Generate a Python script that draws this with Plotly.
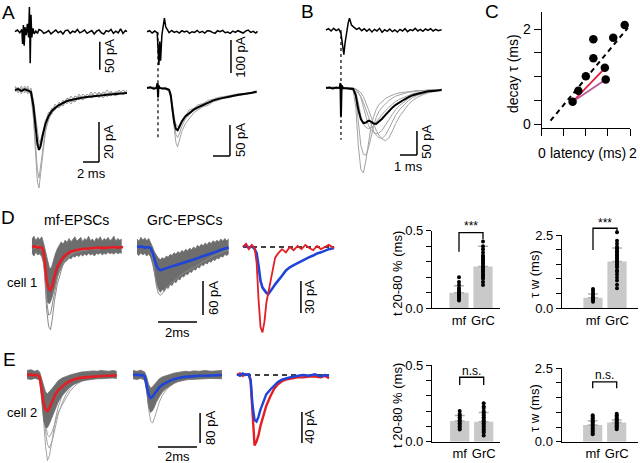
import plotly.graph_objects as go

W, H = 640, 463
FONT = "Arial, Liberation Sans, sans-serif"
RED = "#e31e24"
BLUE = "#1f45d8"
PINK = "#b85a9a"
CRED = "#e01a3c"
LGRAY = "#a3a3a3"
BUNDLE = "#6d6d6d"
BARC = "#c9c9c9"

# ---------------- data (time in ms, current in pA) ----------------
# Panel A, left cell
tA1_top = [0,0.3,0.6,0.85,0.95,1.05,1.15,1.25,1.4,1.55,1.7,1.8,1.9,2.0,2.1,2.25,2.4,2.6,2.8,3.0,
           3.3,3.6,3.9,4.2,4.5,4.8,5.1,5.4,5.7,6.0,6.3,6.6,6.9,7.2,7.5,7.8,8.1,8.4,8.7,9.0,
           9.3,9.6,9.9,10.2,10.5,10.8,11.1,11.4,11.7,12.0,12.3,12.6,12.9,13.2,13.5,13.8,14]
iA1_top = [0,3,-2,4,-22,12,-25,8,-6,14,-10,44,-56,30,-10,6,-4,1,-3,4,
           2,-3,-1,2,-4,0,3,-2,1,-4,2,3,-3,1,-1,4,-2,0,3,-3,
           -1,2,-4,1,3,-2,-4,2,0,4,-3,1,-2,5,-3,2,0]
tA1 = [0,0.4,0.8,1.2,1.6,2.0,2.3,2.6,2.8,3.0,3.2,3.5,3.8,4.2,4.6,5.0,5.5,6.0,6.5,7.0,
       7.5,8.0,8.5,9.0,9.5,10,10.5,11,11.5,12,12.5,13,13.5,14]
iA1_mean = [0,0.5,-0.4,0.3,-0.2,-1,-8,-20,-27,-30,-28,-22,-17,-13,-10.5,-9,-7.5,-6.5,-5.5,-5,
            -4.5,-4,-3.8,-3.5,-3.2,-3,-2.8,-2.6,-2.4,-2.2,-2,-1.8,-1.7,-1.5]
iA1_sweeps = [
    [1.5,-1,2,-1.5,1,-2,-12,-30,-40,-44,-38,-28,-20,-15,-11,-10,-7,-8,-4,-6,-3,-5,-2,-4,-1,-3.5,-1.5,-3,0,-2.5,-1,-2,0,-1.5],
    [-1,1.5,-2,2,-1,0,-5,-15,-22,-26,-25,-20,-16,-11,-12,-7,-9,-5,-7,-3,-6,-2,-5,-2,-4,-1,-4,-1,-3.5,-0.5,-3,0,-2.5,0],
    [0.5,-1.5,1,-0.5,2,-3,-14,-35,-46,-49,-42,-30,-21,-14,-12,-8,-9,-6,-5,-7,-3,-4,-5,-2,-4,-3,-1,-4,-2,-1,-3,-2,0,-2],
    [2,0,-1,1,-2,1,-6,-18,-25,-28,-26,-22,-15,-13,-9,-10,-6,-8,-4,-5,-6,-3,-4,-4,-2,-3,-3,-1,-2,-3,-1,-1,-2,-1],
]
# Panel A, right cell
tA2_top = [0,0.3,0.6,0.9,1.2,1.3,1.4,1.5,1.6,1.75,1.9,2.05,2.2,2.4,2.6,2.9,3.2,3.5,3.8,4.1,
           4.4,4.7,5.0,5.3,5.6,5.9,6.2,6.5,6.8,7.1,7.4,7.7,8.0,8.3,8.6,8.9,9.2,9.5,9.8,10.1,
           10.4,10.7,11.0,11.3,11.6,11.9,12.2,12.5,12.8,13.0]
iA2_top = [0,3,-4,2,-3,-60,-101,-30,-88,-10,25,41,15,5,-3,4,-2,1,-4,3,
           -1,2,-5,0,-2,4,-3,1,-4,3,2,-2,-5,3,0,4,-3,-1,-5,2,
           -2,3,0,-4,2,5,-2,1,-4,1]
tA2 = [0,0.4,0.8,1.1,1.25,1.3,1.35,1.5,1.8,2.2,2.6,2.8,3.0,3.2,3.4,3.6,3.8,4.1,4.5,5.0,
       5.5,6.0,6.6,7.2,7.8,8.4,9.0,9.6,10.2,10.8,11.4,12.0,12.4,12.7,12.9]
iA2_mean = [0,1,-1,0,8,-15,4,0,-1,-1,-3,-12,-35,-55,-66,-68,-63,-54,-46,-40,
            -35,-31,-27,-23,-20,-17.5,-15.5,-14,-12.5,-11,-10,-8.5,-7.5,-6.5,-6]
iA2_sweeps = [
    [2,-1,1,-2,6,-12,3,1,0,-2,-5,-18,-45,-70,-88,-95,-85,-70,-58,-48,-40,-35,-30,-28,-22,-20,-16,-16,-13,-12,-11,-9,-8,-7,-6],
    [-1,2,-2,1,9,-16,5,-1,1,0,-2,-8,-28,-48,-58,-62,-60,-52,-45,-35,-33,-27,-25,-20,-18,-15,-14,-12,-11,-9,-9,-8,-6,-6,-5],
    [1,0,2,-1,7,-14,2,2,-2,1,-4,-15,-38,-60,-75,-80,-74,-62,-50,-43,-36,-33,-29,-26,-21,-19,-16,-14,-13,-12,-10,-8,-7,-8,-7],
]
stimA2 = 1.29
# Panel B
tB_top = [0,0.15,0.3,0.45,0.6,0.75,0.88,0.95,1.05,1.12,1.2,1.3,1.38,1.5,1.65,1.8,1.95,2.1,2.25,2.4,
          2.55,2.7,2.85,3.0,3.15,3.3,3.45,3.6,3.75,3.9,4.05,4.2,4.35,4.5,4.65,4.8,4.95,5.1,5.25,5.4,
          5.55,5.7,5.85,6.0,6.15,6.3,6.45,6.6,6.8]
iB_top = [0,4,-3,5,-2,3,-10,-35,-75,-40,-5,20,36,15,8,2,6,-2,4,-4,
          3,-6,2,-3,5,-7,1,-4,3,-5,0,-6,2,-3,4,-5,1,-2,5,-3,
          2,-4,3,-1,4,-3,2,-2,1]
tB = [0,0.2,0.4,0.6,0.8,0.85,0.88,0.92,1.0,1.2,1.4,1.6,1.75,1.9,2.05,2.2,2.35,2.5,2.65,2.8,
      2.95,3.1,3.3,3.5,3.7,3.9,4.1,4.35,4.6,4.85,5.1,5.4,5.7,6.0,6.3,6.6,6.8]
iB_mean = [0,1,-1,1,0,10,-60,5,0,-1,-1,-2,-15,-45,-65,-73,-72,-68,-70,-74,
           -75,-71,-64,-56,-48,-41,-35,-29,-24,-19,-15,-12,-9,-7,-6,-5,-4]
iB_sweeps = [
    [1,-1,2,0,-1,8,-55,4,1,0,-2,-5,-40,-120,-170,-177,-150,-110,-80,-60,-45,-35,-28,-22,-18,-15,-12,-10,-9,-8,-6,-5,-6,-4,-3,-4,-2],
    [-1,2,0,-2,1,9,-58,6,-1,1,0,-3,-20,-70,-120,-138,-140,-125,-100,-80,-62,-50,-40,-32,-26,-21,-17,-14,-11,-9,-8,-7,-5,-4,-5,-3,-3],
    [0,1,-2,1,-1,11,-62,3,2,-1,1,0,-2,-8,-20,-40,-60,-78,-88,-93,-95,-94,-88,-78,-66,-55,-45,-36,-28,-22,-17,-14,-10,-8,-7,-5,-4],
    [2,0,1,-1,0,10,-59,5,-2,0,-1,1,-4,-10,-18,-30,-45,-62,-78,-90,-98,-103,-105,-98,-85,-70,-56,-44,-34,-26,-20,-15,-12,-9,-7,-6,-5],
    [-1,0,2,1,-2,9,-61,4,0,1,-1,-1,-8,-30,-58,-75,-82,-85,-83,-78,-72,-64,-55,-47,-40,-34,-28,-23,-19,-15,-12,-10,-8,-6,-5,-4,-3],
    [0,-1,1,0,1,10,-60,5,1,-1,0,-1,-2,-5,-10,-18,-30,-45,-60,-75,-88,-98,-106,-110,-104,-90,-74,-58,-45,-34,-26,-19,-14,-10,-8,-6,-4],
]
stimB = 0.88
# Panel C: latency vs decay tau (ms)
C_latency = [0.70,0.83,1.00,1.17,1.17,1.43,1.45,1.62,1.88]
C_decay = [0.47,0.70,1.01,1.39,1.79,1.19,0.94,1.82,2.09]
C_unity_x = [0.2,1.95]
C_unity_y = [0.07,2.03]
C_red_x = [0.70,1.40]
C_red_y = [0.47,1.15]
C_pink_x = [0.70,1.45]
C_pink_y = [0.47,0.94]
C_ticks = [0, 0.5, 1, 1.5, 2]
C_ticktext = ["0", "", "", "", "2"]

# Panel D, cell 1
tDm = [0,0.15,0.3,0.45,0.55,0.65,0.75,0.85,0.95,1.05,1.15,1.3,1.45,1.6,1.8,2.0,2.2,2.4,2.6,2.8,
       3.0,3.2,3.4,3.6,3.8,4.0,4.2,4.4,4.67]
iDm_mean = [0,1,-1,0,-3,-25,-60,-74,-76,-68,-52,-35,-26,-18,-12,-8,-6,-4,-3,-3,-2,-2,-1,-2,-1,-1,0,-1,0]
tDm_band = [0,0.1,0.2,0.3,0.4,0.5,0.6,0.7,0.8,0.9,1.0,1.1,1.2,1.3,1.4,1.5,1.6,1.7,1.8,1.9,
            2.0,2.1,2.2,2.3,2.4,2.5,2.6,2.7,2.8,2.9,3.0,3.1,3.2,3.3,3.4,3.5,3.6,3.7,3.8,3.9,
            4.0,4.1,4.2,4.3,4.4,4.5,4.6]
iDm_hi = [14,19,11,17,13,18,6,-10,-28,-38,-36,-22,-12,-3,4,9,5,12,8,15,
          9,14,18,10,13,17,9,15,12,19,11,14,9,16,13,18,10,15,12,17,
          11,14,19,10,15,12,14]
iDm_lo = [-11,-16,-9,-14,-12,-17,-30,-70,-98,-100,-92,-80,-66,-52,-44,-36,-31,-26,-24,-19,
          -21,-16,-18,-14,-17,-13,-16,-12,-15,-11,-14,-12,-16,-11,-13,-10,-14,-11,-13,-9,
          -12,-10,-13,-9,-12,-10,-11]
iDm_sweeps = [
    [2,-3,4,-2,-8,-50,-110,-140,-146,-125,-95,-65,-45,-30,-20,-14,-10,-8,-6,-5,-4,-3,-4,-2,-3,-1,-2,-1,0],
    [-3,2,-1,3,-5,-40,-95,-120,-118,-100,-80,-55,-38,-27,-18,-12,-9,-7,-5,-6,-3,-4,-2,-3,-1,-2,0,-1,-1],
]
tDg = [0,0.2,0.4,0.6,0.7,0.8,0.9,1.0,1.1,1.2,1.35,1.5,1.7,1.9,2.1,2.3,2.5,2.7,2.9,3.1,
       3.3,3.5,3.7,3.9,4.1,4.3,4.5,4.7]
iDg_mean = [0,1,-1,0,-2,-10,-22,-33,-39,-41,-39,-37,-35,-33,-31,-29,-27,-25,-22,-20,-17,-15,-12,-10,-8,-5,-3,-1]
tDg_band = [0,0.1,0.2,0.3,0.4,0.5,0.6,0.7,0.8,0.9,1.0,1.1,1.2,1.3,1.4,1.5,1.6,1.7,1.8,1.9,
            2.0,2.1,2.2,2.3,2.4,2.5,2.6,2.7,2.8,2.9,3.0,3.1,3.2,3.3,3.4,3.5,3.6,3.7,3.8,3.9,
            4.0,4.1,4.2,4.3,4.4,4.5,4.6,4.7]
iDg_hi = [14,10,17,12,16,11,15,8,0,-9,-15,-20,-22,-19,-21,-16,-18,-13,-15,-10,
          -13,-8,-11,-6,-9,-4,-7,-2,-5,0,-3,3,0,5,2,7,4,9,6,11,
          8,12,9,14,10,15,11,14]
iDg_lo = [-12,-15,-10,-14,-11,-16,-12,-18,-30,-48,-64,-74,-80,-75,-78,-71,-73,-66,-68,-61,
          -63,-56,-58,-51,-53,-47,-49,-43,-45,-39,-41,-35,-37,-31,-33,-28,-30,-25,-27,-22,
          -24,-19,-21,-16,-18,-13,-15,-12]
iDg_sweeps = [
    [-2,3,-1,2,-6,-20,-45,-70,-82,-85,-80,-72,-66,-60,-54,-48,-44,-40,-35,-31,-27,-23,-20,-16,-13,-10,-8,-5],
]
tDo = [0,0.15,0.3,0.45,0.6,0.7,0.8,0.9,1.0,1.1,1.2,1.3,1.4,1.5,1.65,1.8,2.0,2.2,2.4,2.6,
       2.8,3.0,3.2,3.4,3.6,3.8,4.0,4.2,4.4,4.67]
iDo_mf = [0,3,-2,2,-1,-15,-50,-75,-80,-70,-52,-42,-35,-22,-10,-6,-2,-5,0,-3,1,-2,2,-1,-3,1,-2,0,2,-1]
iDo_grc = [0,2,-1,1,-2,-6,-18,-32,-38,-41,-43,-44,-42,-39,-35,-32,-27,-22,-19,-17,-15,-13,-11,-9.5,-8,-6,-5,-3.5,-2,-1]

# Panel E, cell 2
tEm = [0,0.2,0.4,0.55,0.65,0.75,0.85,0.95,1.05,1.15,1.3,1.45,1.6,1.8,2.0,2.2,2.4,2.6,2.8,3.0,
       3.2,3.4,3.6,3.8,4.0,4.2,4.4,4.6]
iEm_mean = [0,1,-1,0,-5,-35,-75,-92,-96,-88,-70,-52,-40,-30,-22,-16,-12,-9,-7,-6,-5,-4,-3,-3,-2,-2,-1,-1]
iEm_hi = [12,14,10,13,8,-10,-30,-45,-50,-45,-35,-25,-15,-8,-3,0,3,6,8,9,10,11,10,12,11,10,12,10]
iEm_lo = [-10,-12,-9,-11,-15,-60,-120,-140,-140,-130,-110,-90,-72,-55,-42,-32,-25,-20,-16,-14,-12,-11,-10,-10,-9,-9,-8,-9]
iEm_sweeps = [
    [2,-2,1,-1,-6,-40,-120,-190,-228,-215,-170,-120,-85,-55,-38,-26,-18,-13,-10,-8,-6,-5,-4,-3,-3,-2,-2,-1],
    [-1,1,-2,2,-4,-30,-90,-150,-185,-195,-175,-140,-105,-75,-52,-36,-25,-18,-13,-10,-8,-6,-5,-4,-3,-2,-2,-1],
    [1,0,1,-2,-3,-25,-80,-130,-160,-165,-150,-125,-100,-80,-60,-44,-32,-23,-17,-13,-10,-8,-6,-5,-4,-3,-2,-1],
]
tEg = [0,0.2,0.4,0.5,0.6,0.7,0.8,0.9,1.0,1.1,1.2,1.35,1.5,1.7,1.9,2.1,2.3,2.5,2.7,2.9,
       3.1,3.4,3.7,4.0,4.3,4.56]
iEg_mean = [0,1,-1,0,-3,-25,-52,-61,-58,-50,-42,-33,-26,-20,-15,-11,-8,-6,-5,-4,-3,-2,-2,-1,-1,0]
iEg_hi = [12,10,13,11,8,-5,-25,-35,-32,-25,-18,-10,-5,-1,3,5,7,8,10,9,11,10,12,10,11,12]
iEg_lo = [-10,-12,-9,-11,-14,-45,-85,-100,-95,-85,-72,-58,-46,-36,-28,-22,-18,-15,-13,-12,-11,-10,-10,-9,-9,-10]
iEg_sweeps = [
    [1,-1,2,-2,-4,-35,-90,-122,-128,-115,-95,-72,-55,-40,-30,-22,-16,-12,-9,-7,-5,-4,-3,-2,-2,-1],
]
tEo = [0,0.15,0.3,0.45,0.6,0.7,0.8,0.9,1.0,1.1,1.2,1.35,1.5,1.7,1.9,2.1,2.3,2.5,2.7,2.9,
       3.1,3.4,3.7,4.0,4.3,4.5,4.72]
iEo_mf = [0,2,-1,1,0,-8,-50,-91,-86,-78,-66,-52,-40,-28,-18,-12,-8,-6,-5,-4,-3,-3,-2,-2,-3,-1,-4]
iEo_grc = [1,-1,2,0,1,-6,-40,-58,-60,-54,-45,-34,-25,-19,-14,-9,-6,-4,-3,-2,-1,0,-1,1,-2,0,-1]

# Scale bars (ms, pA)
sbA1_top = 50
sbA1 = (2, 20)
sbA2_top = 100
sbA2 = (2, 50)
sbB = (1, 50)
sbD = (2, 60)
sbDo = 30
sbE = (2, 80)
sbEo = 40

# Bar charts
groups = ["mf", "GrC"]
D_t2080_mean = [0.10, 0.27]
D_t2080_sd = [0.045, 0.13]
D_t2080_mf = [0.05,0.06,0.07,0.08,0.08,0.09,0.10,0.11,0.12,0.13,0.15,0.17,0.20]
D_t2080_grc = [0.15,0.17,0.19,0.20,0.21,0.22,0.23,0.24,0.25,0.26,0.27,0.28,0.29,0.30,0.31,0.32,0.33,0.34,0.36,0.38,0.40,0.43]
D_tauw_mean = [0.36, 1.60]
D_tauw_sd = [0.13, 0.46]
D_tauw_mf = [0.22,0.28,0.32,0.36,0.40,0.45,0.52,0.60,0.66]
D_tauw_grc = [0.68,0.80,0.95,1.05,1.15,1.25,1.30,1.40,1.45,1.50,1.55,1.60,1.65,1.70,1.75,1.80,1.85,1.90,1.95,2.00,2.05,2.10,2.20,2.30,2.59]
E_t2080_mean = [0.135, 0.13]
E_t2080_sd = [0.035, 0.06]
E_t2080_mf = [0.08,0.09,0.10,0.11,0.12,0.13,0.14,0.15,0.16,0.17,0.18,0.20]
E_t2080_grc = [0.04,0.06,0.07,0.08,0.09,0.10,0.11,0.12,0.13,0.14,0.15,0.16,0.17,0.18,0.19,0.20,0.22,0.23,0.25]
E_tauw_mean = [0.57, 0.65]
E_tauw_sd = [0.14, 0.09]
E_tauw_mf = [0.25,0.30,0.35,0.40,0.45,0.50,0.55,0.60,0.65,0.70,0.75,0.80,0.85,0.90]
E_tauw_grc = [0.42,0.48,0.52,0.56,0.60,0.64,0.68,0.72,0.76,0.80,0.85,0.90,0.95]

# ---------------- figure helpers ----------------
fig = go.Figure()
axes = {}


def make_axes(box, x0, sx, y0, sy):
    n = len(axes) // 2 + 1
    s = "" if n == 1 else str(n)
    l, r, t, b = box
    axes["xaxis" + s] = dict(domain=[l / W, r / W], range=[(l - x0) / sx, (r - x0) / sx],
                             anchor="y" + s, visible=False, fixedrange=True, automargin=False,
                             showgrid=False, zeroline=False)
    axes["yaxis" + s] = dict(domain=[1 - b / H, 1 - t / H], range=[(y0 - b) / sy, (y0 - t) / sy],
                             anchor="x" + s, visible=False, fixedrange=True, automargin=False,
                             showgrid=False, zeroline=False)
    return ("x" + s, "y" + s)


def line(ax, x, y, color, width, dash=None, fill=None, fillcolor=None):
    fig.add_trace(go.Scatter(x=x, y=y, xaxis=ax[0], yaxis=ax[1], mode="lines",
                             line=dict(color=color, width=width, dash=dash),
                             fill=fill, fillcolor=fillcolor,
                             hoverinfo="skip", showlegend=False))


def atext(ax, x, y, s, size=13, angle=0):
    fig.add_annotation(x=x, y=y, xref=ax[0], yref=ax[1], text=s, showarrow=False,
                       textangle=angle, font=dict(family=FONT, size=size, color="black"),
                       xanchor="center", yanchor="middle")


def ptext(px, py, s, size=13, angle=0):
    fig.add_annotation(x=px / W, y=1 - py / H, xref="paper", yref="paper", text=s,
                       showarrow=False, textangle=angle,
                       font=dict(family=FONT, size=size, color="black"),
                       xanchor="center", yanchor="middle")


def vbar(ax, x, y_top, length):
    line(ax, [x, x], [y_top - length, y_top], "black", 1.5)


def hbar(ax, x_right, y, length):
    line(ax, [x_right - length, x_right], [y, y], "black", 1.5)


def band(ax, t, hi, lo, color):
    line(ax, t, hi, color, 0.8)
    line(ax, t, lo, color, 0.8, fill="tonexty", fillcolor=color)


# ---------------- Panel A ----------------
axA1t = make_axes((10, 135, 0, 80), 15, 8, 31.7, 0.561)
line(axA1t, tA1_top, iA1_top, "black", 1.5)
vbar(axA1t, 10.6, -18, sbA1_top)
atext(axA1t, 11.9, -43, f"{sbA1_top} pA", angle=-90)

axA1b = make_axes((10, 135, 75, 195), 15, 8, 90, 2.0)
for sw in iA1_sweeps:
    line(axA1b, tA1, sw, LGRAY, 1)
line(axA1b, tA1, iA1_mean, "black", 2)
vbar(axA1b, 10.5, -16, sbA1[1])
hbar(axA1b, 10.5, -16 - sbA1[1], sbA1[0])
atext(axA1b, 11.75, -26, f"{sbA1[1]} pA", angle=-90)
atext(axA1b, 9.5, -42, f"{sbA1[0]} ms")

axA2t = make_axes((140, 262, 0, 80), 147, 8.5, 31.7, 0.33)
line(axA2t, tA2_top, iA2_top, "black", 1.5)
vbar(axA2t, 9.88, -25, sbA2_top)
atext(axA2t, 11.06, -76, f"{sbA2_top} pA", angle=-90)

axA2b = make_axes((140, 262, 20, 165), 147, 8.5, 88, 0.62)
line(axA2b, [stimA2, stimA2], [90, -84], "black", 1.2, dash="dot")
for sw in iA2_sweeps:
    line(axA2b, tA2, sw, LGRAY, 1)
line(axA2b, tA2, iA2_mean, "black", 2)
vbar(axA2b, 9.76, -59.7, sbA2[1])
hbar(axA2b, 9.76, -59.7 - sbA2[1], sbA2[0])
atext(axA2b, 10.94, -84, f"{sbA2[1]} pA", angle=-90)
atext(axA2b, 8.76, -129, f"{sbA2[0]} ms")

# ---------------- Panel B ----------------
axBt = make_axes((320, 448, 0, 80), 326, 17, 30, 0.33)
line(axBt, tB_top, iB_top, "black", 1.5)
axBb = make_axes((320, 448, 20, 180), 326, 17, 88, 0.48)
line(axBb, [stimB, stimB], [120.8, -108], "black", 1.2, dash="dot")
for sw in iB_sweeps:
    line(axBb, tB, sw, LGRAY, 1)
line(axBb, tB, iB_mean, "black", 2)
vbar(axBb, 5.35, -89.6, sbB[1])
hbar(axBb, 5.35, -89.6 - sbB[1], sbB[0])
atext(axBb, 5.94, -112, f"{sbB[1]} pA", angle=-90)
atext(axBb, 4.85, -164, f"{sbB[0]} ms")

# ---------------- Panel C ----------------
axC = make_axes((541.7, 630, 11.7, 128), 541.7, 44.15, 124, 47.35)
sC = axC[0][1:]
for key in ("xaxis" + sC, "yaxis" + sC):
    axes[key].update(dict(visible=True, showline=True, linecolor="black", linewidth=1.3,
                          ticks="outside", ticklen=7, tickwidth=1.3, tickcolor="black",
                          tickmode="array", tickvals=C_ticks, ticktext=C_ticktext,
                          tickfont=dict(family=FONT, size=14, color="black")))
axes["xaxis" + sC].update(dict(showticklabels=False, side="bottom"))
axes["yaxis" + sC].update(dict(side="left"))
line(axC, C_unity_x, C_unity_y, "black", 2, dash="5px,4px")
line(axC, C_red_x, C_red_y, CRED, 1.8)
line(axC, C_pink_x, C_pink_y, PINK, 1.8)
fig.add_trace(go.Scatter(x=C_latency, y=C_decay, xaxis=axC[0], yaxis=axC[1], mode="markers",
                         marker=dict(size=8.5, color="black"), cliponaxis=False,
                         hoverinfo="skip", showlegend=False))
ptext(542, 153, "0", 14)
ptext(633, 153, "2", 14)
ptext(588, 153, "latency (ms)", 14)
ptext(513, 74, "decay τ (ms)", 14, angle=-90)

# ---------------- Panel D ----------------
axDm = make_axes((28, 128, 225, 335), 32, 19.5, 247, 0.567)
band(axDm, tDm_band, iDm_hi, iDm_lo, BUNDLE)
for sw in iDm_sweeps:
    line(axDm, tDm, sw, "#8a8a8a", 1)
line(axDm, tDm, iDm_mean, RED, 2.6)

axDg = make_axes((130, 235, 225, 335), 137, 19.5, 247, 0.567)
band(axDg, tDg_band, iDg_hi, iDg_lo, BUNDLE)
for sw in iDg_sweeps:
    line(axDg, tDg, sw, "#8a8a8a", 1)
line(axDg, tDg, iDg_mean, BLUE, 2.6)
vbar(axDg, 3.385, -60, sbD[1])
hbar(axDg, 3.077, -132.3, sbD[0])
atext(axDg, 3.9, -90, f"{sbD[1]} pA", angle=-90)
atext(axDg, 2.077, -150, f"{sbD[0]}ms")

axDo = make_axes((238, 345, 225, 340), 243, 19.5, 247, 1.067)
line(axDo, [tDo[0], tDo[-1]], [0, 0], "black", 1.5, dash="5px,4px")
line(axDo, tDo, iDo_grc, BLUE, 2.6)
line(axDo, tDo, iDo_mf, RED, 1.8)
vbar(axDo, 2.97, -31.8, sbDo)
atext(axDo, 3.44, -46.8, f"{sbDo} pA", angle=-90)

# ---------------- Panel E ----------------
axEm = make_axes((22, 125, 355, 463), 27, 19.5, 375, 0.375)
for sw in iEm_sweeps:
    line(axEm, tEm, sw, LGRAY, 1)
band(axEm, tEm, iEm_hi, iEm_lo, BUNDLE)
line(axEm, tEm, iEm_mean, RED, 2.6)

axEg = make_axes((128, 232, 355, 463), 133, 19.5, 375, 0.375)
for sw in iEg_sweeps:
    line(axEg, tEg, sw, LGRAY, 1)
band(axEg, tEg, iEg_hi, iEg_lo, BUNDLE)
line(axEg, tEg, iEg_mean, BLUE, 2.6)
vbar(axEg, 3.44, -101, sbE[1])
hbar(axEg, 3.28, -192, sbE[0])
atext(axEg, 4.0, -141, f"{sbE[1]} pA", angle=-90)
atext(axEg, 2.28, -216, f"{sbE[0]}ms")

axEo = make_axes((232, 345, 355, 463), 237, 19.5, 375, 0.775)
line(axEo, [tEo[0], tEo[-1]], [0, 0], "black", 1.5, dash="5px,4px")
line(axEo, tEo, iEo_mf, RED, 2.4)
line(axEo, tEo, iEo_grc, BLUE, 2.4)
vbar(axEo, 3.33, -47.7, sbEo)
atext(axEo, 3.74, -67, f"{sbEo} pA", angle=-90)

# ---------------- Bar charts ----------------
def style_bar_axes(ax, yvals, ytext):
    s = ax[0][1:]
    axes["xaxis" + s].update(dict(visible=True, showline=True, linecolor="black", linewidth=1.3,
                                  ticks="", tickmode="array", tickvals=[0, 1], ticktext=groups,
                                  tickfont=dict(family=FONT, size=13, color="black")))
    axes["yaxis" + s].update(dict(visible=True, showline=True, linecolor="black", linewidth=1.3,
                                  ticks="outside", ticklen=5, tickwidth=1.3, tickcolor="black",
                                  tickmode="array", tickvals=yvals, ticktext=ytext,
                                  tickfont=dict(family=FONT, size=13, color="black")))


def bar_panel(ax, axo, means, sds, mf_pts, grc_pts, bracket_y, sig, sig_y, dot_size=4):
    fig.add_trace(go.Bar(x=[0, 1], y=means, width=0.8, xaxis=ax[0], yaxis=ax[1],
                         marker=dict(color=BARC, line=dict(width=0)),
                         error_y=dict(type="data", array=sds, arrayminus=[0, 0], symmetric=False,
                                      color="#b3b3b3", thickness=1.5, width=5),
                         hoverinfo="skip", showlegend=False))
    fig.add_trace(go.Scatter(x=[0] * len(mf_pts) + [1] * len(grc_pts), y=mf_pts + grc_pts,
                             xaxis=axo[0], yaxis=axo[1], mode="markers",
                             marker=dict(size=dot_size, color="black"), cliponaxis=False,
                             hoverinfo="skip", showlegend=False))
    line(axo, [0, 0, 1, 1], bracket_y, "black", 1.3)
    atext(axo, 0.5, sig_y, sig, size=12)


t_vals = [0, 0.1, 0.2, 0.3, 0.4, 0.5]
t_text = ["0.0", "", "", "", "", "0.5"]
w_vals = [0, 0.5, 1, 1.5, 2, 2.5]
w_text = ["0.0", "", "", "", "", "2.5"]

axDL = make_axes((432, 500, 230.7, 308.3), 459, 24, 308.3, 155.2)
axDLo = make_axes((432, 500, 212, 308.3), 459, 24, 308.3, 155.2)
style_bar_axes(axDL, t_vals, t_text)
bar_panel(axDL, axDLo, D_t2080_mean, D_t2080_sd, D_t2080_mf, D_t2080_grc,
          [0.365, 0.487, 0.487, 0.445], "***", 0.53)

axDR = make_axes((562, 638, 235, 308.3), 593, 24, 308.3, 29.32)
axDRo = make_axes((562, 638, 212, 308.3), 593, 24, 308.3, 29.32)
style_bar_axes(axDR, w_vals, w_text)
bar_panel(axDR, axDRo, D_tauw_mean, D_tauw_sd, D_tauw_mf, D_tauw_grc,
          [1.99, 2.73, 2.73, 2.62], "***", 2.92)

axEL = make_axes((432, 500, 365, 441.7), 459.7, 24, 441.7, 153.4)
axELo = make_axes((432, 500, 352, 441.7), 459.7, 24, 441.7, 153.4)
style_bar_axes(axEL, t_vals, t_text)
bar_panel(axEL, axELo, E_t2080_mean, E_t2080_sd, E_t2080_mf, E_t2080_grc,
          [0.37, 0.42, 0.42, 0.37], "n.s.", 0.46)

axER = make_axes((561.7, 638, 368.3, 441.7), 592.7, 24, 441.7, 29.36)
axERo = make_axes((561.7, 638, 352, 441.7), 592.7, 24, 441.7, 29.36)
style_bar_axes(axER, w_vals, w_text)
bar_panel(axER, axERo, E_tauw_mean, E_tauw_sd, E_tauw_mf, E_tauw_grc,
          [1.82, 2.04, 2.04, 1.82], "n.s.", 2.27)

ptext(397, 274, "t 20-80 % (ms)", 13, angle=-90)
ptext(397, 406, "t 20-80 % (ms)", 13, angle=-90)
ptext(534, 274, "τ w (ms)", 13, angle=-90)
ptext(534, 408, "τ w (ms)", 13, angle=-90)

# ---------------- labels ----------------
ptext(8, 12, "A", 19)
ptext(307, 11, "B", 19)
ptext(492, 11, "C", 19)
ptext(8, 217, "D", 19)
ptext(9, 359, "E", 19)
ptext(76, 220, "mf-EPSCs", 14)
ptext(184, 220, "GrC-EPSCs", 14)
ptext(22, 282, "cell 1", 13)
ptext(22, 412, "cell 2", 13)

fig.update_layout(width=W, height=H, margin=dict(l=0, r=0, t=0, b=0),
                  paper_bgcolor="white", plot_bgcolor="rgba(0,0,0,0)",
                  showlegend=False, font=dict(family=FONT, color="black"), **axes)
fig.write_html("out.html", config={"displayModeBar": False},
               post_script="document.body.style.margin='0';document.body.style.overflow='hidden';")
